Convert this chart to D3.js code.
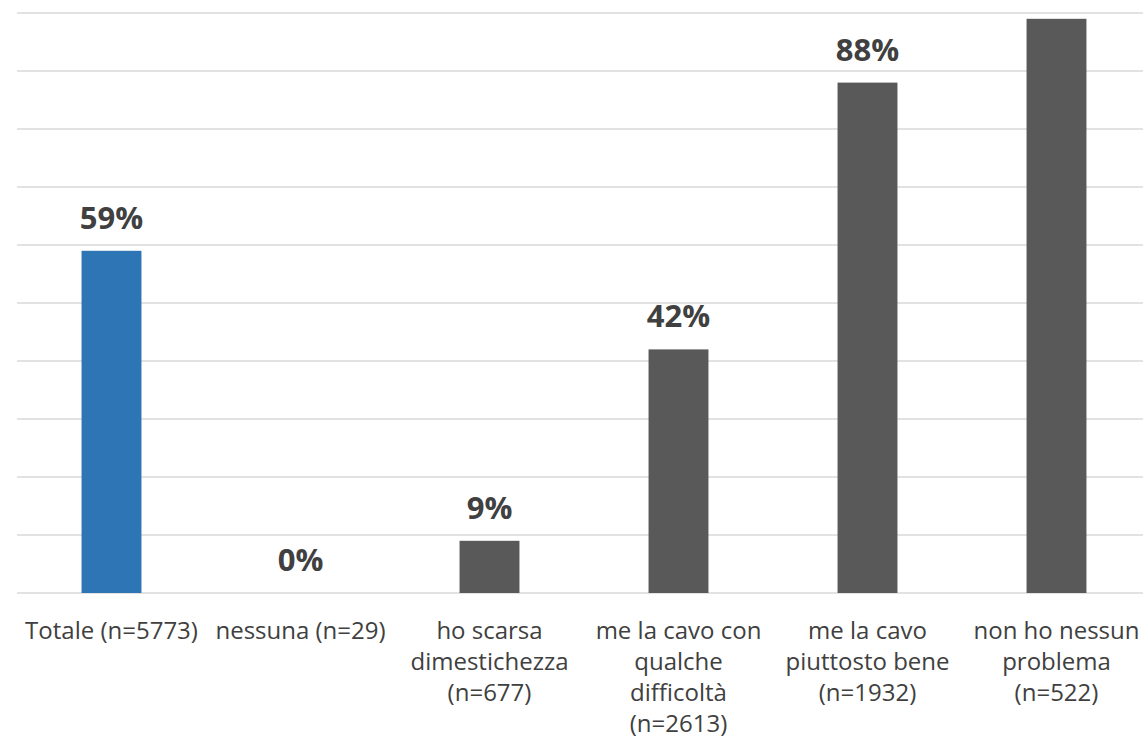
<!DOCTYPE html>
<html>
<head>
<meta charset="utf-8">
<script src="https://cdn.jsdelivr.net/npm/d3@7"></script>
<style>
  body { margin: 0; background: #fff; }
  svg { display: block; font-family: "Open Sans", "Noto Sans", sans-serif; }
</style>
</head>
<body>
<svg id="chart" width="1143" height="745"></svg>
<script>
// Chart data
const categories = ['totale', 'nessuna', 'scarsa', 'difficolta', 'bene', 'nessunProblema'];
const categoryLabels = [
  ['Totale (n=5773)'],
  ['nessuna (n=29)'],
  ['ho scarsa', 'dimestichezza', '(n=677)'],
  ['me la cavo con', 'qualche', 'difficoltà', '(n=2613)'],
  ['me la cavo', 'piuttosto bene', '(n=1932)'],
  ['non ho nessun', 'problema', '(n=522)']
];
const values = [0.59, 0.00, 0.09, 0.42, 0.88, 0.99];
const gridTicks = [0, 0.1, 0.2, 0.3, 0.4, 0.5, 0.6, 0.7, 0.8, 0.9, 1.0];

const svg = d3.select('#chart');

// Plot area
const plotLeft = 17, plotRight = 1151, plotTop = 13, plotBottom = 593;

const x = d3.scaleBand()
  .domain(categories)
  .range([plotLeft, plotRight])
  .paddingInner(0.683)
  .paddingOuter(0.3415);

const y = d3.scaleLinear()
  .domain([0, 1])
  .range([plotBottom, plotTop]);

// Gridlines
svg.append('g')
  .selectAll('line')
  .data(gridTicks)
  .enter()
  .append('line')
  .attr('x1', plotLeft)
  .attr('x2', 1143)
  .attr('y1', d => y(d))
  .attr('y2', d => y(d))
  .attr('stroke', '#d9d9d9')
  .attr('stroke-width', 1.5);

// Bars
svg.append('g')
  .selectAll('rect')
  .data(values)
  .enter()
  .append('rect')
  .attr('x', (d, i) => x(categories[i]))
  .attr('y', d => y(d))
  .attr('width', x.bandwidth())
  .attr('height', d => plotBottom - y(d))
  .attr('fill', (d, i) => i === 0 ? '#2e75b6' : '#595959');

// Data labels (the last one sits above the visible area in the original, so skip it)
const labelled = values.map((v, i) => ({ v, i })).filter(d => y(d.v) - 22 > 30);

svg.append('g')
  .selectAll('text')
  .data(labelled)
  .enter()
  .append('text')
  .attr('x', d => x(categories[d.i]) + x.bandwidth() / 2)
  .attr('y', d => y(d.v) - 22)
  .attr('text-anchor', 'middle')
  .attr('fill', '#404040')
  .attr('font-size', '31px')
  .attr('font-weight', 'bold')
  .text(d => Math.round(d.v * 100) + '%');

// Category labels
const labelGroups = svg.append('g')
  .selectAll('text')
  .data(categoryLabels)
  .enter()
  .append('text')
  .attr('x', (d, i) => x(categories[i]) + x.bandwidth() / 2)
  .attr('y', 639)
  .attr('text-anchor', 'middle')
  .attr('fill', '#404040')
  .attr('font-size', '24px');

labelGroups.selectAll('tspan')
  .data(d => d)
  .enter()
  .append('tspan')
  .attr('x', function() { return d3.select(this.parentNode).attr('x'); })
  .attr('dy', (d, i) => i === 0 ? 0 : 31)
  .text(d => d);
</script>
</body>
</html>
